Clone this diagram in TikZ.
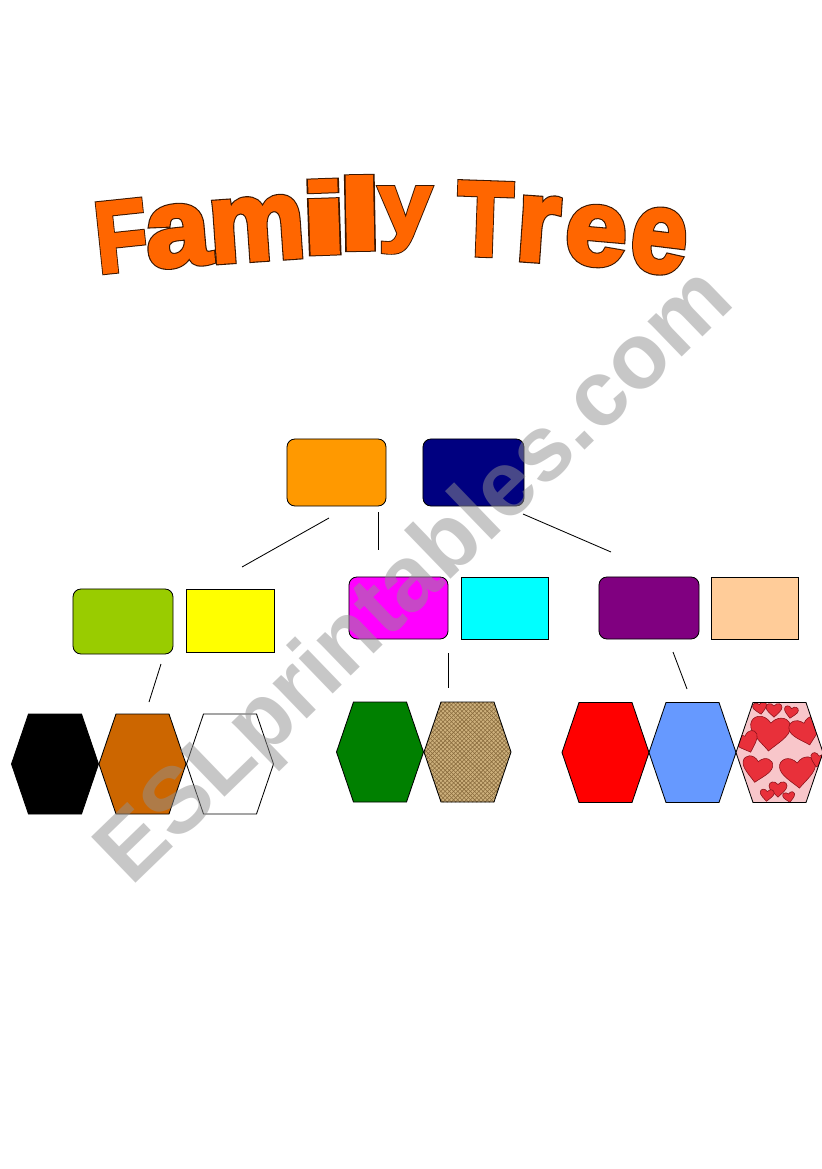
\documentclass[tikz,border=0pt]{standalone}
\usepackage{fontspec}
\usetikzlibrary{patterns}
\newfontface\titleback{Liberation Sans Bold}[FakeBold=5.5]
\newfontface\titlefront{Liberation Sans Bold}[FakeBold=3.5]
\newfontface\wmfont{Liberation Sans Bold}
\definecolor{titleorange}{HTML}{FF6600}
\definecolor{titleline}{HTML}{3A1600}
\definecolor{momorange}{HTML}{FF9900}
\definecolor{dadnavy}{HTML}{000080}
\definecolor{boxlime}{HTML}{99CC00}
\definecolor{boxyellow}{HTML}{FFFF00}
\definecolor{boxmagenta}{HTML}{FF00FF}
\definecolor{boxcyan}{HTML}{00FFFF}
\definecolor{boxpurple}{HTML}{800080}
\definecolor{boxpeach}{HTML}{FFCC99}
\definecolor{hexbrown}{HTML}{CC6600}
\definecolor{hexgreen}{HTML}{008000}
\definecolor{hexred}{HTML}{FF0000}
\definecolor{hexblue}{HTML}{6699FF}
\definecolor{burlap}{HTML}{CDB07C}
\definecolor{burlapline}{HTML}{8A6C3E}
\definecolor{heartpink}{HTML}{F8C6CA}
\definecolor{heartred}{HTML}{E8303A}
\definecolor{heartline}{HTML}{8A1018}
\definecolor{wmgray}{HTML}{919191}
\newcommand\hexpath[2]{(#1,#2) ++(-43.5,0) -- ++(17,-50) -- ++(53,0) -- ++(17,50) -- ++(-17,50) -- ++(-53,0) -- cycle}
\newcommand\heart[4]{\fill[heartred,draw=heartline,line width=.4pt,shift={(#1,#2)},rotate=#4,scale=#3] (0,.9) .. controls (-.4,.5) and (-1,.1) .. (-1,-.35) .. controls (-1,-.8) and (-.4,-1) .. (0,-.5) .. controls (.4,-1) and (1,-.8) .. (1,-.35) .. controls (1,.1) and (.4,.5) .. (0,.9) -- cycle;}

\begin{document}
\begin{tikzpicture}[x=0.025cm,y=-0.025cm,
  rbox/.style={draw=black,line width=.6pt,rounded corners=.2cm,minimum width=2.5cm,minimum height=1.6cm,inner sep=0pt},
  sbox/.style={draw=black,line width=.6pt,minimum width=2.175cm,minimum height=1.55cm,inner sep=0pt},
  link/.style={line width=.6pt},
  hexa/.style={draw=black,line width=.6pt},
  titleback/.style={inner sep=0pt,text=titleline,font=\titleback\fontsize{71}{71}\selectfont},
  titlefront/.style={inner sep=0pt,text=titleorange,font=\titlefront\fontsize{71}{71}\selectfont}]
\fill[white] (0,0) rectangle (821,1169);
\useasboundingbox (0,0) rectangle (821,1169);

% title, letter by letter on an arch
\foreach \ch/\cx/\cy/\rot/\xs/\ys [count=\i] in {F/121/236/6/.85/1, a/178/236/5/1.15/1.1, m/257/229/4/1.08/1.13, i/324/217/2/1.7/1, l/360/213/1/1.6/1, y/405/220/0/.95/.88, T/485/219/-2/.9/1.05, r/538/229/-4/1.1/1.17, e/596/236/-5/1.1/1.07, e/659/241/-7/1/1.15} {
	\node (back\i) at (\cx,\cy) [titleback,rotate=\rot,xscale=\xs,yscale=\ys] {\ch};
	\node (title\i) at (\cx,\cy) [titlefront,rotate=\rot,xscale=\xs,yscale=\ys] {\ch};
	}

% grandparents
\node (mum) at (336.5,472.5) [rbox,fill=momorange,minimum width=2.475cm,minimum height=1.675cm] {};
\node (dad) at (473.5,472.5) [rbox,fill=dadnavy,minimum width=2.525cm,minimum height=1.675cm] {};

% children and partners
\node (kid1) at (123,621.5) [rbox,fill=boxlime,minimum height=1.625cm] {};
\node (partner1) at (230,620.5) [sbox,fill=boxyellow,minimum width=2.2cm,minimum height=1.575cm] {};
\node (kid2) at (398.5,608) [rbox,fill=boxmagenta,minimum width=2.475cm,minimum height=1.55cm] {};
\node (partner2) at (504.5,608) [sbox,fill=boxcyan] {};
\node (kid3) at (649,608) [rbox,fill=boxpurple,minimum height=1.55cm] {};
\node (partner3) at (754.5,608) [sbox,fill=boxpeach] {};

% loose connectors
\foreach \ax/\ay/\bx/\by [count=\i] in {329/518/242/567, 378/512/378/550, 523/514/611/552, 161/664/149/702, 448/653/448/688, 673/652/687/689} {
	\coordinate (top\i) at (\ax,\ay);
	\coordinate (bot\i) at (\bx,\by);
	\draw[link] (top\i) -- (bot\i);
	}

% grandchildren
\foreach \hx/\hy/\hcol in {55/764/black, 142.5/764/hexbrown, 230/764/white, 380/752/hexgreen, 605.5/752.5/hexred, 692.5/752.5/hexblue} {
	\draw[hexa,fill=\hcol] \hexpath{\hx}{\hy};
	}
\fill[burlap] \hexpath{467.5}{752};
\fill[pattern=crosshatch,pattern color=burlapline] \hexpath{467.5}{752};
\draw[hexa] \hexpath{467.5}{752};
\fill[heartpink] \hexpath{779.5}{752.5};
\begin{scope}
\clip \hexpath{779.5}{752.5};
\heart{770}{733}{20}{-5}
\heart{760}{708}{7}{10}
\heart{774}{710}{8}{0}
\heart{791}{712}{7}{-10}
\heart{806}{731}{16}{15}
\heart{747}{742}{12}{20}
\heart{757}{769}{15}{-10}
\heart{798}{772}{18}{5}
\heart{778}{789}{9}{0}
\heart{789}{797}{6}{10}
\heart{767}{795}{7}{-5}
\heart{818}{760}{8}{-15}
\end{scope}
\draw[hexa] \hexpath{779.5}{752.5};

% watermark
\node (mark) at (434,596) [anchor=base,rotate=44,text=wmgray,text opacity=.5,font=\wmfont\fontsize{66}{66}\selectfont] {ESLprintables.com};
\end{tikzpicture}
\end{document}
